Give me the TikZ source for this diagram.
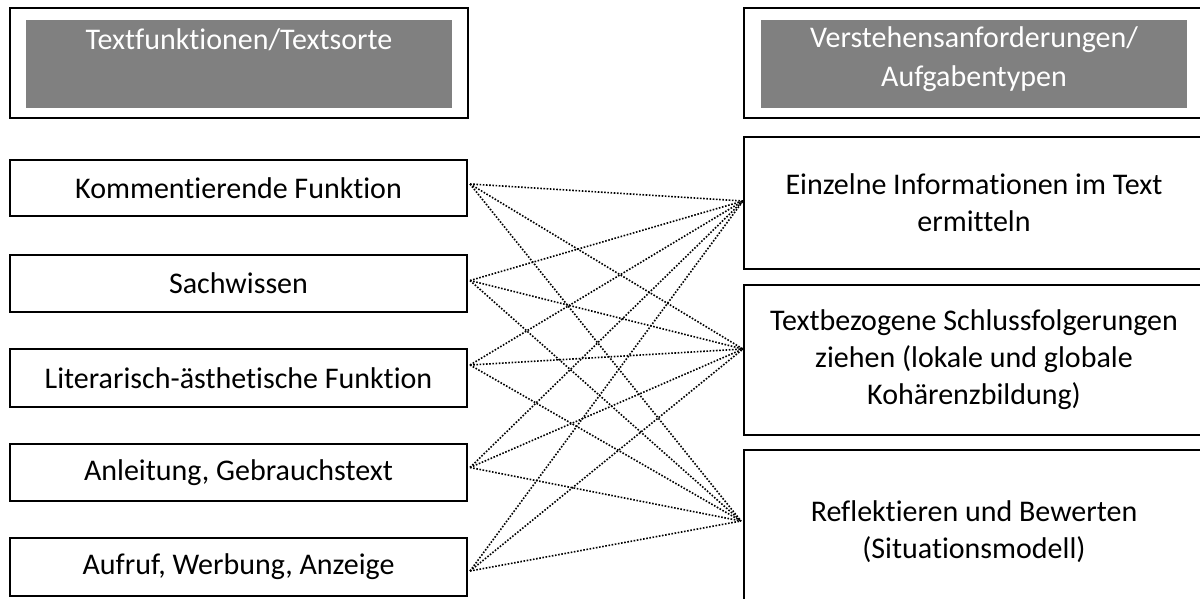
\documentclass[tikz,border=0pt]{standalone}
\usepackage{fontspec}
\setmainfont{Carlito}[Ligatures=NoCommon]
\usetikzlibrary{calc}
\tikzset{
  box/.style={draw=black, line width=2pt, fill=white, inner sep=0pt, align=center,
    font=\fontsize{30}{37}\selectfont},
  graybox/.style={fill=black!50, draw=none, inner sep=0pt},
  headtext/.style={text=white, align=center, inner sep=0pt, anchor=base,
    font=\fontsize{30}{39}\selectfont},
  link/.style={line width=1.6pt, dash pattern=on 1.6pt off 1.6pt, black}
}
\begin{document}
\begin{tikzpicture}[x=1pt,y=-1pt]
\useasboundingbox (0,0) rectangle (1200,598);
% headers
\node[box, line width=2.5pt, minimum width=458, minimum height=110] (h1) at (239,63) {};
\node[graybox, minimum width=426, minimum height=88] (g1) at (239,64) {};
\node[headtext] (t1) at (239,49) {Textfunktionen/Textsorte};
\node[box, line width=2.5pt, minimum width=460, minimum height=110] (h2) at (974,63) {};
\node[graybox, minimum width=426, minimum height=88] (g2) at (974,64) {};
\node[headtext] (t2) at (974,47) {Verstehensanforderungen/};
\node[headtext] (t3) at (974,86) {Aufgabentypen};
% left boxes
\node[box, minimum width=457, minimum height=56] (l1) at (238.5,188) {Kommentierende Funktion};
\node[box, minimum width=457, minimum height=57] (l2) at (238.5,283.5) {Sachwissen};
\node[box, minimum width=457, minimum height=58] (l3) at (238.5,378) {Literarisch-ästhetische Funktion};
\node[box, minimum width=457, minimum height=57] (l4) at (238.5,472.5) {Anleitung, Gebrauchstext};
\node[box, minimum width=457, minimum height=58] (l5) at (238.5,567) {Aufruf, Werbung, Anzeige};
% right boxes
\node[box, minimum width=460, minimum height=132] (r1) at (974,203) {Einzelne Informationen im Text\\ermitteln};
\node[box, minimum width=460, minimum height=150] (r2) at (974,360) {Textbezogene Schlussfolgerungen\\ziehen (lokale und globale\\Kohärenzbildung)};
\node[box, minimum width=460, minimum height=164] (r3) at (974,532) {Reflektieren und Bewerten\\(Situationsmodell)};
% connector end points
\coordinate (a1) at ($(l1.east)+(2,-4)$);
\coordinate (a2) at ($(l2.east)+(2,-3)$);
\coordinate (a3) at ($(l3.east)+(2,-13)$);
\coordinate (a4) at ($(l4.east)+(2,-5)$);
\coordinate (a5) at ($(l5.east)+(2,4)$);
\coordinate (b1) at ($(r1.west)+(0,-2)$);
\coordinate (b2) at ($(r2.west)+(0,-11)$);
\coordinate (b3) at ($(r3.west)+(-2,-11)$);
\foreach \a in {a1,a2,a3,a4,a5}{
  \foreach \b in {b1,b2,b3}{
    \draw[link] (\a) -- (\b);
  }
}
\end{tikzpicture}
\end{document}
